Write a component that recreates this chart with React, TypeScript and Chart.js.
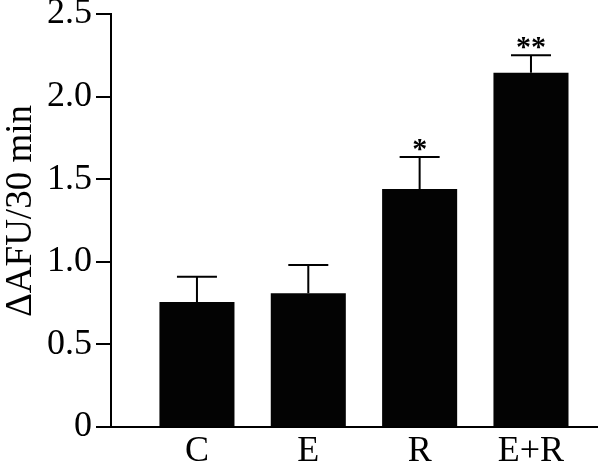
import React, { useEffect, useRef } from "react";
import { Chart, registerables } from "chart.js";

Chart.register(...registerables);

const categories = ["C", "E", "R", "E+R"];
const values = [0.757, 0.81, 1.44, 2.145];
const errorTops = [0.91, 0.98, 1.635, 2.25];
const significance = ["", "", "*", "**"];
const yTicks = [0, 0.5, 1.0, 1.5, 2.0, 2.5];
const yTitle = "ΔAFU/30 min";

const FONT = "'Liberation Serif', 'Times New Roman', serif";

const overlayPlugin = {
  id: "overlay",
  afterDatasetsDraw(chart: any) {
    const ctx = chart.ctx;
    const meta = chart.getDatasetMeta(0);
    const ys = chart.scales.y;
    ctx.save();
    ctx.strokeStyle = "#000";
    ctx.fillStyle = "#000";
    ctx.lineWidth = 2;
    meta.data.forEach((bar: any, i: number) => {
      const x = bar.x;
      const yb = ys.getPixelForValue(values[i]);
      const yt = ys.getPixelForValue(errorTops[i]);
      ctx.beginPath();
      ctx.moveTo(x, yb);
      ctx.lineTo(x, yt);
      ctx.moveTo(x - 20, yt);
      ctx.lineTo(x + 20, yt);
      ctx.stroke();
      if (significance[i]) {
        ctx.font = `bold 30px ${FONT}`;
        ctx.textAlign = "center";
        ctx.textBaseline = "alphabetic";
        ctx.fillText(significance[i], x, yt + 1);
      }
    });
    ctx.restore();
  },
  afterDraw(chart: any) {
    const ctx = chart.ctx;
    ctx.save();
    ctx.translate(21, 211);
    ctx.rotate(-Math.PI / 2);
    ctx.font = `37px ${FONT}`;
    ctx.fillStyle = "#000";
    ctx.textAlign = "center";
    ctx.textBaseline = "middle";
    ctx.fillText(yTitle, 0, 0);
    ctx.restore();
  },
};

export default function App() {
  const ref = useRef<HTMLCanvasElement>(null);
  useEffect(() => {
    document.body.style.margin = "0";
    const chart = new Chart(ref.current!, {
      type: "bar",
      data: {
        datasets: [
          {
            data: values.map((v, i) => ({ x: i + 1, y: v })),
            backgroundColor: "#030303",
            borderWidth: 0,
            categoryPercentage: 1,
            barPercentage: 0.674,
          } as any,
        ],
      },
      plugins: [overlayPlugin],
      options: {
        animation: false,
        responsive: false,
        layout: { padding: { left: 0, right: 3, top: 0, bottom: 0 } },
        plugins: { legend: { display: false }, tooltip: { enabled: false } },
        scales: {
          x: {
            type: "linear",
            min: 0.228,
            max: 4.593,
            offset: false,
            grid: { display: false, drawTicks: false, offset: false },
            border: { display: true, color: "#000", width: 2 },
            afterBuildTicks: (scale: any) => {
              scale.ticks = categories.map((_, i) => ({ value: i + 1 }));
            },
            afterFit: (scale: any) => {
              scale.height = 39;
            },
            ticks: {
              color: "#000",
              padding: 7,
              maxRotation: 0,
              autoSkip: false,
              font: { family: FONT, size: 36, lineHeight: 1.0 },
              callback: (v: any) => categories[Math.round(v) - 1] ?? "",
            },
          },
          y: {
            min: 0,
            max: 2.5,
            afterFit: (scale: any) => {
              scale.width = 111;
              scale.paddingTop = 14;
              scale.paddingBottom = 0;
            },
            afterBuildTicks: (scale: any) => {
              scale.ticks = yTicks.map((v) => ({ value: v }));
            },
            grid: {
              drawOnChartArea: false,
              drawTicks: true,
              tickLength: 15,
              color: "#000",
              lineWidth: 2,
            },
            border: { display: true, color: "#000", width: 2 },
            ticks: {
              color: "#000",
              padding: 4,
              font: { family: FONT, size: 36, lineHeight: 0.75 },
              callback: (v: any) => (v === 0 ? "0" : Number(v).toFixed(1)),
            },
          },
        },
      },
    } as any);
    return () => chart.destroy();
  }, []);
  return <canvas ref={ref} width={600} height={466} style={{ display: "block" }} />;
}
